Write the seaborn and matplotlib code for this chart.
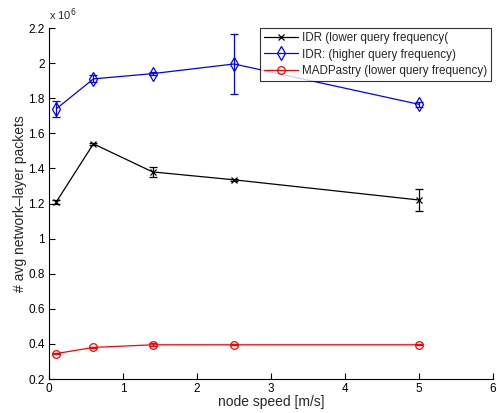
import matplotlib
matplotlib.use("Agg")
import matplotlib.pyplot as plt
import seaborn as sns
import pandas as pd

speed = [0.1, 0.6, 1.4, 2.5, 5.0]
idr_low = [1.21, 1.54, 1.38, 1.335, 1.22]
idr_low_err = [0.01, 0.005, 0.03, 0.005, 0.06]
idr_high = [1.74, 1.91, 1.94, 1.995, 1.765]
idr_high_err = [0.045, 0.02, 0.01, 0.17, 0.015]
mad = [0.345, 0.38, 0.395, 0.395, 0.395]
mad_err = [0.005, 0.005, 0.008, 0.003, 0.003]
labels = ["IDR (lower query frequency(", "IDR: (higher query frequency)",
          "MADPastry (lower query frequency)"]

sns.set_style("white")
plt.rcParams['font.family'] = ['Liberation Sans', 'DejaVu Sans']

fig = plt.figure(figsize=(4.97, 4.13), dpi=100)
ax = fig.add_axes([0.0986, 0.0823, 0.8934, 0.8499])

series = [(idr_low, idr_low_err, "black", "x", 4, labels[0]),
          (idr_high, idr_high_err, "blue", "d", 7, labels[1]),
          (mad, mad_err, "red", "o", 5.5, labels[2])]
for vals, err, col, mk, ms, lab in series:
    df = pd.DataFrame({"speed": speed, "val": vals})
    sns.lineplot(data=df, x="speed", y="val", ax=ax, color=col, marker=mk,
                 markersize=ms, markerfacecolor="none",
                 markeredgecolor=col, markeredgewidth=0.9, linewidth=0.9,
                 label=lab)
    ax.errorbar(speed, vals, yerr=err, fmt="none", ecolor=col, elinewidth=0.9,
                capsize=3, capthick=0.9)

ax.set_xlim(0, 6)
ax.set_ylim(0.2, 2.2)
ax.set_xticks([0, 1, 2, 3, 4, 5, 6])
ax.set_yticks([0.2, 0.4, 0.6, 0.8, 1.0, 1.2, 1.4, 1.6, 1.8, 2.0, 2.2])
ax.set_yticklabels(["0.2", "0.4", "0.6", "0.8", "1", "1.2", "1.4", "1.6", "1.8", "2", "2.2"])
ax.tick_params(direction="in", length=4, width=0.8, labelsize=8.5, colors="black",
               left=True, bottom=True, pad=3)
for s in ["top", "right"]:
    ax.spines[s].set_visible(False)
for s in ["left", "bottom"]:
    ax.spines[s].set_color("black")
    ax.spines[s].set_linewidth(0.8)
ax.set_xlabel("node speed [m/s]", fontsize=10, labelpad=0)
ax.set_ylabel("# avg network\u2013layer packets", fontsize=10, labelpad=1)
ax.text(0.0, 1.015, "x 10$^{6}$", transform=ax.transAxes, fontsize=8,
        ha="left", va="bottom")

leg = ax.legend(loc="upper right", bbox_to_anchor=(0.9955, 1.0), fontsize=8.4,
                frameon=True, fancybox=False, edgecolor="black",
                borderpad=0.35, labelspacing=0.38, handlelength=2.9,
                handletextpad=0.35, borderaxespad=0.0)
leg.get_frame().set_linewidth(0.8)

fig.savefig("out.png", dpi=100)
